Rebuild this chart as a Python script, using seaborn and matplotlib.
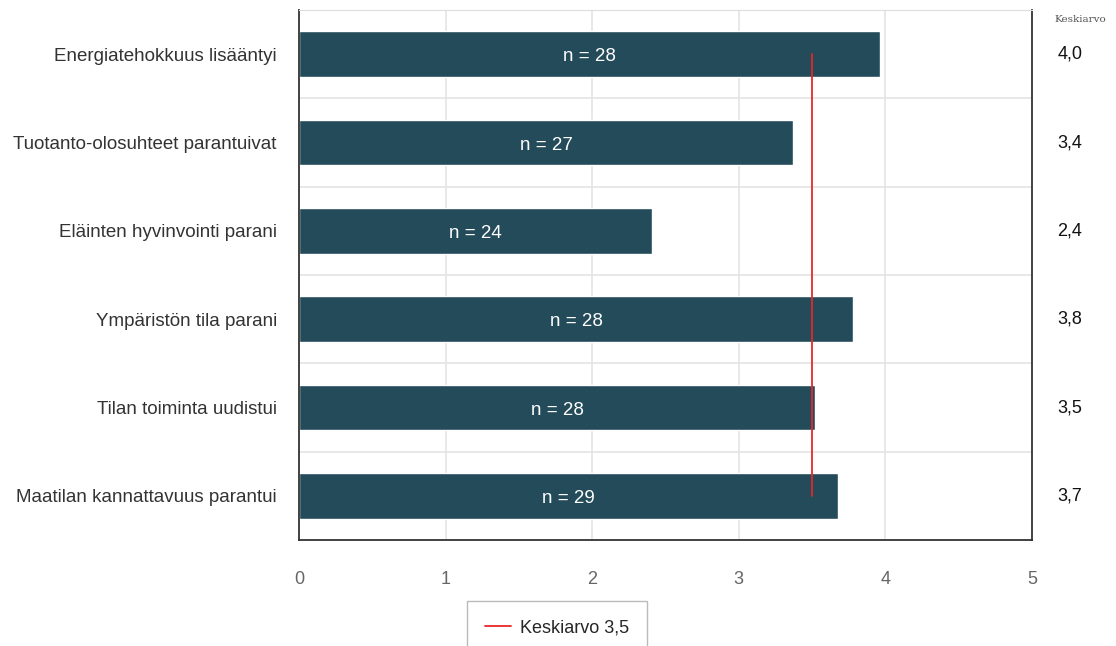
import matplotlib
matplotlib.use("Agg")
import matplotlib.pyplot as plt
import seaborn as sns
import pandas as pd

categories = ["Energiatehokkuus lisääntyi",
              "Tuotanto-olosuhteet parantuivat",
              "Eläinten hyvinvointi parani",
              "Ympäristön tila parani",
              "Tilan toiminta uudistui",
              "Maatilan kannattavuus parantui"]
values = [3.96, 3.37, 2.41, 3.78, 3.52, 3.68]
counts = [28, 27, 24, 28, 28, 29]
means_text = ["4,0", "3,4", "2,4", "3,8", "3,5", "3,7"]
overall_mean = 3.5
mean_label = "Keskiarvo 3,5"

df = pd.DataFrame({"kysymys": categories, "arvo": values})

sns.set_style("white")
plt.rcParams['font.family'] = ['Arial', 'Liberation Sans', 'DejaVu Sans']

fig = plt.figure(figsize=(11.16, 6.46), dpi=100)
ax = fig.add_axes([299/1116, 1-540/646, 733/1116, 530/646])

sns.barplot(data=df, x="arvo", y="kysymys", color="#234b5a", saturation=1,
            width=0.52, ax=ax, zorder=2)

for i, (v, n) in enumerate(zip(values, counts)):
    ax.text(v/2, i + 0.03, "n = %d" % n, color="white", ha="center", va="center",
            fontsize=13.5, zorder=4)

line, = ax.plot([overall_mean, overall_mean], [0, len(categories)-1],
                color="#e8272b", lw=1.3, zorder=3, label=mean_label)

ax.set_xlim(0, 5)
ax.set_ylim(len(categories)-0.5, -0.5)
ax.set_xticks(range(6))
ax.set_yticks(range(len(categories)))
ax.set_yticklabels(categories)
ax.set_xlabel("")
ax.set_ylabel("")

# grid: vertical at integers, horizontal between categories
for x in range(1, 5):
    ax.axvline(x, color="#e4e4e4", lw=1.2, zorder=0)
for y in range(len(categories)-1):
    ax.axhline(y+0.5, color="#e4e4e4", lw=1.2, zorder=0)

for side in ["left", "bottom", "right"]:
    ax.spines[side].set_color("#333333")
    ax.spines[side].set_linewidth(1.3)
ax.spines["top"].set_color("#dddddd")

ax.tick_params(axis="x", length=0, pad=22, labelsize=13, labelcolor="#666666")
ax.tick_params(axis="y", length=0, pad=16, labelsize=13.5, labelcolor="#333333")

# right-side mean values
for i, t in enumerate(means_text):
    ax.text((1070 - 299)/733*5, i, t, ha="center", va="center",
            fontsize=13, color="#111111", clip_on=False)
fig.text(1080/1116, 1-20/646, "Keskiarvo", family="serif", fontsize=7.5,
         color="#555555", ha="center", va="center")

leg = fig.legend(handles=[line], loc="center", bbox_to_anchor=(557/1116, 1-628/646),
                 frameon=True, fancybox=False, fontsize=13, handlelength=1.4,
                 handletextpad=0.5, borderpad=1.0)
leg.get_frame().set_edgecolor("#aaaaaa")

fig.savefig("out.png", dpi=100)
